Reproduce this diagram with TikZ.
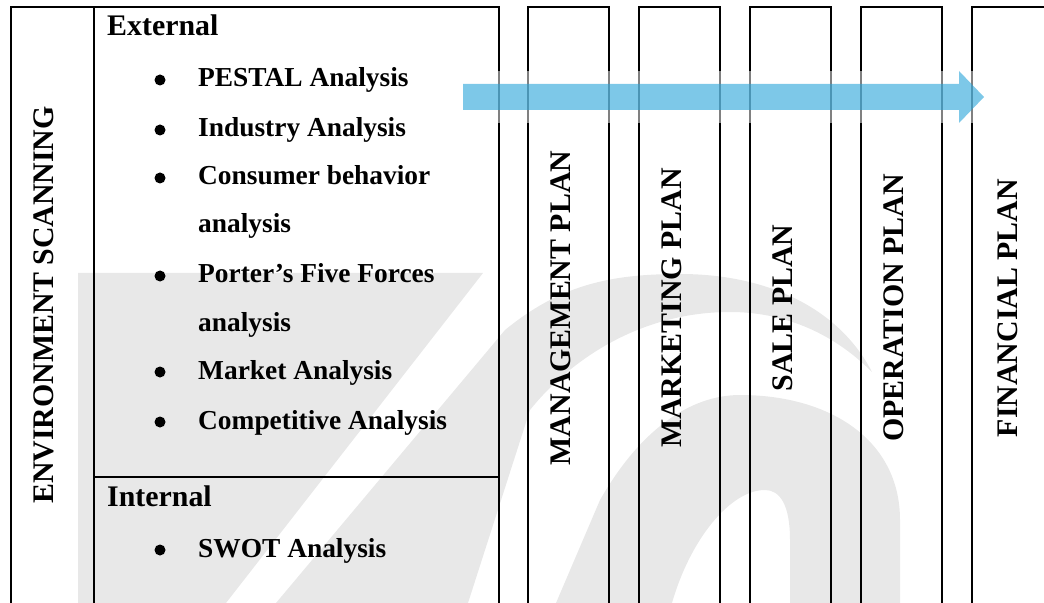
\documentclass[tikz,border=0pt]{standalone}
\usepackage{fontspec}
\setmainfont{Liberation Serif}
\usetikzlibrary{calc}
\definecolor{wmgray}{RGB}{232,232,232}
\definecolor{arrowblue}{RGB}{40,163,217}
\begin{document}
\begin{tikzpicture}[x=1bp,y=-1bp,
  frame/.style={line width=2bp, black, line join=miter},
  heading/.style={font=\fontsize{30}{36}\selectfont\bfseries, inner sep=0, anchor=base west},
  itemtext/.style={font=\fontsize{27.5}{33}\selectfont\bfseries, inner sep=0, anchor=base west},
  bulletdot/.style={circle, fill=black, inner sep=0, minimum size=11bp},
  vlabel/.style={font=\fontsize{30}{36}\selectfont\bfseries, inner sep=0, rotate=90},
]
\useasboundingbox (0,0) rectangle (1044,603);
\clip (0,0) rectangle (1044,603);

% faint background emblem
\fill[wmgray] (78,273) -- (483,273) -- (226,603) -- (78,603) -- cycle;
\fill[wmgray] (276,603) -- (505,330) .. controls (560,285) and (610,274) .. (680,274)
  .. controls (770,274) and (840,310) .. (872,372)
  .. controls (830,330) and (780,312) .. (730,312)
  .. controls (640,312) and (570,360) .. (530,410) -- (468,603) -- cycle;
\fill[wmgray] (556,603) -- (600,500) .. controls (640,430) and (690,395) .. (740,395)
  .. controls (830,395) and (900,440) .. (900,520) -- (900,603) -- (790,603) -- (790,540)
  .. controls (790,505) and (780,490) .. (765,490)
  .. controls (730,490) and (690,540) .. (672,603) -- cycle;

% environment scanning block
\draw[frame] (11,603) -- (11,7) -- (499,7) -- (499,603);
\draw[frame] (94,7) -- (94,603);
\draw[frame] (94,477) -- (499,477);
\node[vlabel] (env) at (44,305) {ENVIRONMENT SCANNING};

\node[heading] (ext) at (107,36) {External};
\foreach \y/\t/\b [count=\i] in {
  87/PESTAL Analysis/1,
  137/Industry Analysis/1,
  185/Consumer behavior/1,
  233/analysis/0,
  283/Porter’s Five Forces/1,
  331/analysis/0,
  379/Market Analysis/1,
  429/Competitive Analysis/1}{
  \ifnum\b=1 \node[bulletdot] (eb\i) at (160,\y-7) {};\fi
  \node[itemtext] (ei\i) at (198,\y) {\t};
}
\node[heading] (int) at (107,506) {Internal};
\node[bulletdot] (ib1) at (160,550) {};
\node[itemtext] (ii1) at (198,557) {SWOT Analysis};

% plan columns
\foreach \l/\r/\n/\t in {
  528/609/mgmt/MANAGEMENT PLAN,
  639/720/mkt/MARKETING PLAN,
  750/831/sale/SALE PLAN,
  861/942/oper/OPERATION PLAN,
  972/1060/fin/FINANCIAL PLAN}{
  \draw[frame] (\l,603) -- (\l,7) -- (\r,7) -- (\r,603);
  \node[vlabel] (\n) at ({(\l+\r)/2-8},308) {\t};
}

% flow arrow across the plans
\coordinate (arrowtail) at (463,97);
\coordinate (arrowtip) at (984,97);
\fill[white, opacity=0.5] ($(arrowtail)+(0,-26)$) rectangle ($(arrowtip)+(0,26)$);
\fill[arrowblue, opacity=0.6]
  ($(arrowtail)+(0,-13)$) -- ($(arrowtip)+(-25,-13)$) -- ($(arrowtip)+(-25,-26)$)
  -- (arrowtip) -- ($(arrowtip)+(-25,26)$) -- ($(arrowtip)+(-25,13)$)
  -- ($(arrowtail)+(0,13)$) -- cycle;
\end{tikzpicture}
\end{document}
